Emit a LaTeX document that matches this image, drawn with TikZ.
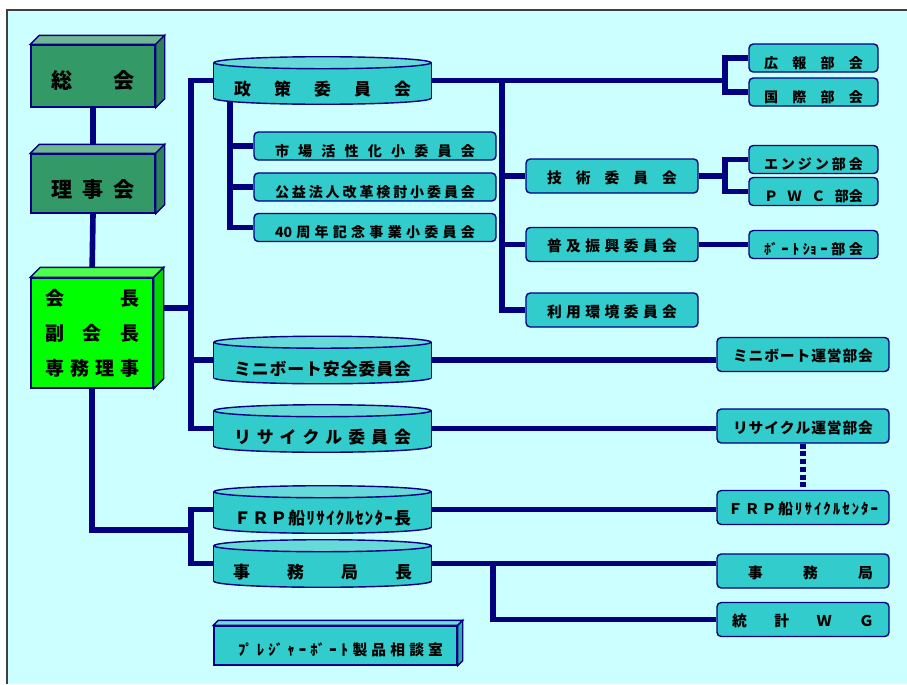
\documentclass[tikz,border=0pt]{standalone}
\usepackage{fontspec}
\newfontfamily\jpfont{Noto Sans CJK JP}
\usetikzlibrary{calc}
\definecolor{orgnavy}{HTML}{000080}
\definecolor{orgteal}{HTML}{33CCCC}
\definecolor{orgtealtop}{HTML}{66D9D9}
\definecolor{orggreen}{HTML}{339966}
\definecolor{orglime}{HTML}{00FF00}
\definecolor{orgbg}{HTML}{CCFFFF}
\definecolor{orgframe}{HTML}{404040}
\newlength\pxu \setlength\pxu{0.025cm}
% spread the characters of #2 over a width of #1 pixels
\newcommand\jspread[2]{\makebox[#1\pxu]{\jspreadA#2\relax}}
\def\jspreadA#1{\ifx\relax#1\else#1\expandafter\jspreadB\fi}
\def\jspreadB#1{\ifx\relax#1\else\hfill#1\expandafter\jspreadB\fi}
\pgfdeclarelayer{back}\pgfdeclarelayer{mid}\pgfsetlayers{back,mid,main}

\begin{document}
\begin{tikzpicture}[x=0.025cm, y=-0.025cm,
  outl/.style={draw=orgnavy, line width=1pt},
  wire/.style={orgnavy, line width=4pt},
  boxA/.style={outl, fill=orgteal, rounded corners=3pt, inner sep=0pt,
    minimum width=172*\pxu, minimum height=34*\pxu, text height=10.6pt, text depth=0pt,
    font=\jpfont\bfseries\fontsize{10.5}{12}\selectfont},
  boxB/.style={boxA, minimum width=129*\pxu, minimum height=28*\pxu, text height=14.6pt,
    font=\jpfont\bfseries\fontsize{10}{12}\selectfont},
  boxC/.style={boxB, minimum width=242*\pxu},
  cyl/.style={inner sep=0pt, minimum width=217*\pxu, minimum height=35*\pxu,
    text height=22pt, text depth=0pt, font=\jpfont\bfseries\fontsize{12}{14}\selectfont},
  block/.style={outl, inner sep=0pt, font=\jpfont\bfseries\fontsize{15}{18}\selectfont}]

  \useasboundingbox (0,0) rectangle (907,684);

  % ---- left column ----
  \node[block, fill=orggreen, minimum width=124*\pxu, minimum height=62*\pxu,
    text height=18.2pt, text depth=0pt] (soukai) at (93,76) {\jspread{83}{総会}};
  \node[block, fill=orggreen, minimum width=124*\pxu, minimum height=59*\pxu,
    text height=20pt, text depth=0pt] (rijikai) at (93,183.5) {\jspread{83}{理事会}};
  \node[block, fill=orglime, minimum width=122*\pxu, minimum height=110*\pxu, align=center,
    font=\jpfont\bfseries\fontsize{13.5}{24.8}\selectfont] (chair) at (92,333)
    {\jspread{94}{会長}\\ \jspread{94}{副会長}\\ \jspread{94}{専務理事}};

  % ---- cylinders ----
  \node[cyl] (seisaku) at (322.5,80.5) {\jspread{177}{政策委員会}};
  \node[cyl] (mini) at (322.5,360) {\jspread{177}{ミニボート安全委員会}};
  \node[cyl] (recyc) at (322.5,428.5) {\jspread{177}{リサイクル委員会}};
  \node[cyl] (frp) at (322.5,509.5) {\jspread{177}{ＦＲＰ船ﾘｻｲｸﾙｾﾝﾀｰ長}};
  \node[cyl] (jimucho) at (322.5,563.5) {\jspread{179}{事務局長}};

  % ---- sub committees ----
  \node[boxC] (ichiba) at (375,146) {\jspread{200}{市場活性化小委員会}};
  \node[boxC] (koueki) at (375,187) {\jspread{200}{公益法人改革検討小委員会}};
  \node[boxC] (anniv) at (375,227.5) {\jspread{200}{{40}周年記念事業小委員会}};

  \node[boxA] (gijutsu) at (612,176) {\jspread{130}{技術委員会}};
  \node[boxA] (fukyu) at (612,244.5) {\jspread{130}{普及振興委員会}};
  \node[boxA] (riyou) at (612,310) {\jspread{130}{利用環境委員会}};

  % ---- right column ----
  \node[boxB] (kouhou) at (813.5,58) {\jspread{99}{広報部会}};
  \node[boxB] (kokusai) at (813.5,92) {\jspread{99}{国際部会}};
  \node[boxB] (engine) at (813.5,159.5) {\jspread{99}{エンジン部会}};
  \node[boxB] (pwc) at (813.5,191.5) {\jspread{99}{ＰＷＣ{部会}}};
  \node[boxB] (boatshow) at (813.5,244.5) {\jspread{99}{{ﾎﾞ}ｰﾄ{ｼｮ}ｰ部会}};

  \node[boxA] (miniun) at (803,354.5) {\jspread{140}{ミニボート運営部会}};
  \node[boxA] (recycun) at (803,426) {\jspread{140}{リサイクル運営部会}};
  \node[boxA] (frpc) at (803,507.5) {\jspread{150}{ＦＲＰ船ﾘｻｲｸﾙｾﾝﾀｰ}};
  \node[boxA] (jimukyoku) at (803,571) {\hspace*{15\pxu}\jspread{125}{事務局}};
  \node[boxA] (toukei) at (803,619.5) {\jspread{142}{統計ＷＧ}};

  \node[block, fill=orgteal, minimum width=243*\pxu, minimum height=39*\pxu,
    text height=14.4pt, text depth=0pt, font=\jpfont\bfseries\fontsize{10.5}{12}\selectfont]
    (pleasure) at (335.5,645.5) {\hspace*{10\pxu}\jspread{205}{{ﾌﾟ}ﾚ{ｼﾞ}ｬｰ{ﾎﾞ}ｰﾄ製品相談室}};

  % ---- 3D faces and cylinder bodies ----
  \begin{pgfonlayer}{mid}
    \foreach \n/\c/\d in {soukai/orggreen/9, rijikai/orggreen/9, chair/orglime/10, pleasure/orgteal/5}{
      \filldraw[outl, fill=\c!70!white] (\n.north west) -- ++(\d,-\d)
        -- ($(\n.north east)+(\d,-\d)$) -- (\n.north east) -- cycle;
      \filldraw[outl, fill=\c!85!black] (\n.north east) -- ++(\d,-\d)
        -- ($(\n.south east)+(\d,-\d)$) -- (\n.south east) -- cycle;
    }
    \foreach \n in {seisaku,mini,recyc,frp,jimucho}{
      \filldraw[outl, fill=orgteal] (\n.south) ellipse [x radius=108.5, y radius=6];
      \fill[orgteal] (\n.north west) rectangle (\n.south east);
      \draw[outl] (\n.north west) -- (\n.south west) (\n.north east) -- (\n.south east);
      \filldraw[outl, fill=orgtealtop] (\n.north) ellipse [x radius=108.5, y radius=6];
    }
  \end{pgfonlayer}

  % ---- background and connectors ----
  \begin{pgfonlayer}{back}
    \fill[white] (0,0) rectangle (907,684);
    \fill[orgbg] (7,10) rectangle (907,684);
    \draw[orgframe, line width=1.2pt] (7,684) -- (7,10) -- (907,10);

    \coordinate (t1) at (191,308);
    \coordinate (t2) at (191,530);
    \coordinate (t3) at (725,75);
    \coordinate (t4) at (502,0);
    \coordinate (t5) at (230,0);
    \coordinate (t6) at (725,0);
    \coordinate (t7) at (493,0);

    \draw[wire] (soukai.south) -- (rijikai.north);
    \draw[wire] (rijikai.south) -- (chair.north);
    \draw[wire] (chair.south) |- (t2);
    \draw[wire] (frp.west) -| (t2) |- (jimucho.west);
    \draw[wire] (chair.east |- t1) -- (t1);
    \draw[wire] (seisaku.west) -| (t1) |- (recyc.west);
    \draw[wire] (t1 |- mini.west) -- (mini.west);

    \draw[wire] (seisaku.east) -- (seisaku.east -| t3);
    \draw[wire] (kouhou.west) -| (t3) |- (kokusai.west);
    \draw[wire] (t5 |- seisaku.south) |- (anniv.west);
    \draw[wire] (t5 |- ichiba.west) -- (ichiba.west);
    \draw[wire] (t5 |- koueki.west) -- (koueki.west);
    \draw[wire] (t4 |- seisaku.east) |- (riyou.west);
    \draw[wire] (t4 |- gijutsu.west) -- (gijutsu.west);
    \draw[wire] (t4 |- fukyu.west) -- (fukyu.west);
    \draw[wire] (gijutsu.east) -- (gijutsu.east -| t6);
    \draw[wire] (engine.west) -| (t6 |- gijutsu.east) |- (pwc.west);
    \draw[wire] (fukyu.east) -- (boatshow.west);

    \draw[wire] (mini.east) -- (mini.east -| miniun.west);
    \draw[wire] (recyc.east) -- (recyc.east -| recycun.west);
    \draw[wire, dash pattern=on 3.5pt off 2pt] (recycun.south) -- (frpc.north);
    \draw[wire] (frp.east) -- (frp.east -| frpc.west);
    \draw[wire] (jimucho.east) -- (jimucho.east -| jimukyoku.west);
    \draw[wire] (t7 |- jimucho.east) |- (toukei.west);
  \end{pgfonlayer}

\end{tikzpicture}
\end{document}
